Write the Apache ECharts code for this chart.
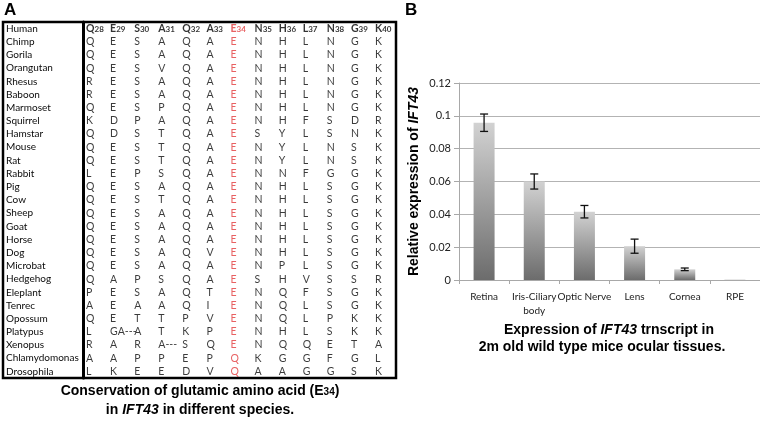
<!DOCTYPE html>
<html><head><meta charset="utf-8">
<script src="https://cdn.jsdelivr.net/npm/echarts@6/dist/echarts.min.js"></script>
<style>html,body{margin:0;padding:0;background:#fff}#c{width:760px;height:421px}</style>
</head><body><div id="c"></div>
<script>
// ---------- Panel A data ----------
const headerResidues = ['Q','E','S','A','Q','A','E','N','H','L','N','G','K'];
const headerPositions = ['28','29','30','31','32','33','34','35','36','37','38','39','40'];
const referenceSpecies = 'Human';
const species = ['Chimp','Gorila','Orangutan','Rhesus','Baboon','Marmoset','Squirrel','Hamstar','Mouse','Rat','Rabbit','Pig','Cow','Sheep','Goat','Horse','Dog','Microbat','Hedgehog','Eleplant','Tenrec','Opossum','Platypus','Xenopus','Chlamydomonas','Drosophila'];
const alignment = [
  ['Q','E','S','A','Q','A','E','N','H','L','N','G','K'],
  ['Q','E','S','A','Q','A','E','N','H','L','N','G','K'],
  ['Q','E','S','V','Q','A','E','N','H','L','N','G','K'],
  ['R','E','S','A','Q','A','E','N','H','L','N','G','K'],
  ['R','E','S','A','Q','A','E','N','H','L','N','G','K'],
  ['Q','E','S','P','Q','A','E','N','H','L','N','G','K'],
  ['K','D','P','A','Q','A','E','N','H','F','S','D','R'],
  ['Q','D','S','T','Q','A','E','S','Y','L','S','N','K'],
  ['Q','E','S','T','Q','A','E','N','Y','L','N','S','K'],
  ['Q','E','S','T','Q','A','E','N','Y','L','N','S','K'],
  ['L','E','P','S','Q','A','E','N','N','F','G','G','K'],
  ['Q','E','S','A','Q','A','E','N','H','L','S','G','K'],
  ['Q','E','S','T','Q','A','E','N','H','L','S','G','K'],
  ['Q','E','S','A','Q','A','E','N','H','L','S','G','K'],
  ['Q','E','S','A','Q','A','E','N','H','L','S','G','K'],
  ['Q','E','S','A','Q','A','E','N','H','L','S','G','K'],
  ['Q','E','S','A','Q','V','E','N','H','L','S','G','K'],
  ['Q','E','S','A','Q','A','E','N','P','L','S','G','K'],
  ['Q','A','P','S','Q','A','E','S','H','V','S','S','R'],
  ['P','E','S','A','Q','T','E','N','Q','F','S','G','K'],
  ['A','E','A','A','Q','I','E','N','Q','L','S','G','K'],
  ['Q','E','T','T','P','V','E','N','Q','L','P','K','K'],
  ['L','GA---','A','T','K','P','E','N','H','L','S','K','K'],
  ['R','A','R','A---','S','Q','E','N','Q','Q','E','T','A'],
  ['A','A','P','P','E','P','Q','K','G','G','F','G','L'],
  ['L','K','E','E','D','V','Q','A','A','G','G','S','K']
];
const highlightColumn = 6; // E34

// ---------- Panel B data ----------
const tissues = ['Retina','Iris-Ciliary\nbody','Optic Nerve','Lens','Cornea','RPE'];
const expression = [0.0958, 0.0600, 0.0416, 0.0206, 0.0065, 0.0003];
const expressionError = [0.0053, 0.0046, 0.0038, 0.0043, 0.0008, 0];
const yTicks = [0, 0.02, 0.04, 0.06, 0.08, 0.1, 0.12];

const rows = [referenceSpecies].concat(species);
const RED = '#e2393b';
const cellFont = 'Lato, "Open Sans", sans-serif';

const cellData = [];
headerResidues.forEach((r, c) => {
  const red = c === highlightColumn;
  cellData.push({
    value: [c, 0],
    label: { formatter: red ? '{lr|' + r + '}{nr|' + headerPositions[c] + '}' : '{l|' + r + '}{n|' + headerPositions[c] + '}' }
  });
});
alignment.forEach((row, ri) => {
  row.forEach((r, c) => {
    cellData.push({
      value: [c, ri + 1],
      label: { formatter: r, color: c === highlightColumn ? RED : '#0a0a0a' }
    });
  });
});

const errData = tissues.map((t, i) => [i, expression[i], expressionError[i]]);

const chart = echarts.init(document.getElementById('c'), null, { renderer: 'canvas' });
chart.setOption({
  animation: false,
  backgroundColor: '#fff',
  grid: [
    { left: 3, top: 22, width: 393, height: 356, show: true, borderColor: '#000', borderWidth: 2.5, backgroundColor: 'transparent' },
    { left: 83, top: 22, width: 313, height: 356 },
    { left: 459, top: 83, width: 302, height: 197 }
  ],
  xAxis: [
    { gridIndex: 0, type: 'value', show: false, min: 0, max: 1 },
    { gridIndex: 1, type: 'category', data: headerPositions, show: false },
    { gridIndex: 2, type: 'category', data: tissues,
      axisLine: { show: true, lineStyle: { color: '#a8a8a8', width: 1 } },
      axisTick: { show: true, length: 4, lineStyle: { color: '#a8a8a8' } },
      axisLabel: { color: '#222', fontFamily: cellFont, fontSize: 10, margin: 10, lineHeight: 14, interval: 0 }
    }
  ],
  yAxis: [
    { gridIndex: 0, type: 'category', data: rows, inverse: true,
      axisLine: { show: false }, axisTick: { show: false },
      axisLabel: { inside: true, interval: 0, margin: 3, color: '#0a0a0a', fontFamily: cellFont, fontSize: 10 },
      splitLine: { show: true, interval: (i) => i === 1, lineStyle: { color: '#000', width: 2 } }
    },
    { gridIndex: 1, type: 'category', data: rows, inverse: true,
      axisLine: { show: true, lineStyle: { color: '#000', width: 3 } },
      axisTick: { show: false }, axisLabel: { show: false }, splitLine: { show: false }
    },
    { gridIndex: 2, type: 'value', min: 0, max: 0.12, interval: 0.02,
      axisLine: { show: true, lineStyle: { color: '#a8a8a8' } },
      axisTick: { show: true, length: 5, lineStyle: { color: '#a8a8a8' } },
      axisLabel: { color: '#222', fontFamily: cellFont, fontSize: 11, margin: 8,
        formatter: (v) => { const m = yTicks.find(t => Math.abs(t - v) < 1e-9); return String(m !== undefined ? m : v); } },
      splitLine: { show: true, lineStyle: { color: '#b3b3b3', width: 1 } },
      name: '{a|Relative expression of }{b|IFT43}',
      nameLocation: 'middle', nameRotate: 90, nameGap: 38,
      nameTextStyle: { rich: {
        a: { fontFamily: 'Liberation Sans, Arial, sans-serif', fontWeight: 'bold', fontSize: 14, color: '#000' },
        b: { fontFamily: 'Liberation Sans, Arial, sans-serif', fontWeight: 'bold', fontStyle: 'italic', fontSize: 14, color: '#000' }
      } }
    }
  ],
  series: [
    {
      type: 'scatter', xAxisIndex: 1, yAxisIndex: 1, symbolSize: 0, silent: true,
      data: cellData,
      label: {
        show: true, position: 'inside', align: 'left', verticalAlign: 'middle', offset: [-9, 0],
        fontFamily: cellFont, fontSize: 10.5, color: '#0a0a0a',
        rich: {
          l: { fontFamily: cellFont, fontWeight: 'bold', fontSize: 10.5, color: '#000' },
          n: { fontFamily: cellFont, fontWeight: 'bold', fontSize: 8, color: '#000', padding: [2, 0, 0, 0] },
          lr: { fontFamily: cellFont, fontWeight: 'bold', fontSize: 10.5, color: RED },
          nr: { fontFamily: cellFont, fontWeight: 'bold', fontSize: 8, color: RED, padding: [2, 0, 0, 0] }
        }
      }
    },
    {
      type: 'bar', xAxisIndex: 2, yAxisIndex: 2, data: expression, barWidth: 21,
      itemStyle: {
        color: new echarts.graphic.LinearGradient(0, 0, 0, 1, [
          { offset: 0, color: '#d2d2d2' },
          { offset: 1, color: '#6c6c6c' }
        ])
      }
    },
    {
      type: 'custom', xAxisIndex: 2, yAxisIndex: 2, data: errData, z: 5,
      renderItem: (params, api) => {
        const x = api.value(0), v = api.value(1), e = api.value(2);
        if (!e) return null;
        const top = api.coord([x, v + e]);
        const bot = api.coord([x, v - e]);
        const hw = 4;
        const st = { stroke: '#111', lineWidth: 1.3 };
        return { type: 'group', children: [
          { type: 'line', shape: { x1: top[0], y1: top[1], x2: bot[0], y2: bot[1] }, style: st },
          { type: 'line', shape: { x1: top[0] - hw, y1: top[1], x2: top[0] + hw, y2: top[1] }, style: st },
          { type: 'line', shape: { x1: bot[0] - hw, y1: bot[1], x2: bot[0] + hw, y2: bot[1] }, style: st }
        ] };
      }
    }
  ],
  graphic: [
    { type: 'text', left: 4, top: 2, style: { text: 'A', font: 'bold 17px "Liberation Sans", Arial, sans-serif', fill: '#000' } },
    { type: 'text', left: 405, top: 2, style: { text: 'B', font: 'bold 17px "Liberation Sans", Arial, sans-serif', fill: '#000' } },
    { type: 'text', x: 200, y: 384, style: {
        text: '{t|Conservation of glutamic amino acid (E}{s|34}{t|)}', align: 'center',
        rich: { t: { font: 'bold 14px "Liberation Sans", Arial, sans-serif', fill: '#000' },
                s: { font: 'bold 10px "Liberation Sans", Arial, sans-serif', fill: '#000', padding: [3, 0, 0, 0] } } } },
    { type: 'text', x: 200, y: 403, style: {
        text: '{t|in }{i|IFT43}{t| in different species.}', align: 'center',
        rich: { t: { font: 'bold 14px "Liberation Sans", Arial, sans-serif', fill: '#000' },
                i: { font: 'italic bold 14px "Liberation Sans", Arial, sans-serif', fill: '#000' } } } },
    { type: 'text', x: 609, y: 323, style: {
        text: '{t|Expression of }{i|IFT43}{t| trnscript in}', align: 'center',
        rich: { t: { font: 'bold 14px "Liberation Sans", Arial, sans-serif', fill: '#000' },
                i: { font: 'italic bold 14px "Liberation Sans", Arial, sans-serif', fill: '#000' } } } },
    { type: 'text', x: 602, y: 340, style: {
        text: '2m old wild type mice ocular tissues.', align: 'center',
        font: 'bold 14px "Liberation Sans", Arial, sans-serif', fill: '#000' } }
  ]
});
</script></body></html>
